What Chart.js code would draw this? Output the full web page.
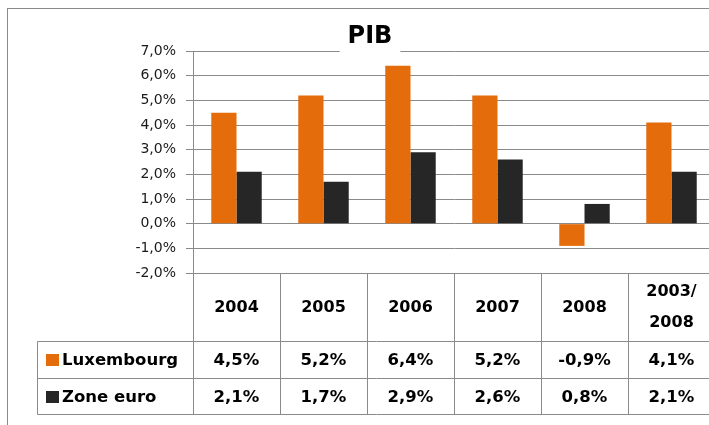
<!DOCTYPE html>
<html>
<head>
<meta charset="utf-8">
<script src="https://cdn.jsdelivr.net/npm/chart.js@4/dist/chart.umd.min.js"></script>
<style>
  html, body { margin: 0; padding: 0; background: #fff; overflow: hidden; }
  canvas { display: block; }
</style>
</head>
<body>
<canvas id="pib" width="740" height="425"></canvas>
<script>
const categories = ['2004', '2005', '2006', '2007', '2008', ['2003/', '2008']];
const luxembourg = [4.5, 5.2, 6.4, 5.2, -0.9, 4.1];
const zoneEuro = [2.1, 1.7, 2.9, 2.6, 0.8, 2.1];
const seriesNames = ['Luxembourg', 'Zone euro'];
const yMin = -2, yMax = 7, yStep = 1;

const orange = '#E46C0A';
const dark = '#262626';
const lineGray = '#8a8a8a';

const pct = v => v.toFixed(1).replace('.', ',') + '%';

// cadre, titre et tableau de données (style Excel)
const tablePlugin = {
  id: 'tableau',
  afterDraw(chart) {
    const ctx = chart.ctx;
    const area = chart.chartArea;
    const x = chart.scales.x;
    const crisp = v => Math.round(v - 0.5) + 0.5;

    ctx.save();
    ctx.strokeStyle = lineGray;
    ctx.lineWidth = 1;

    // cadre du graphique
    ctx.strokeRect(7.5, 8.5, 725, 500);

    // titre avec fond blanc sur la grille
    ctx.font = 'bold 24px "DejaVu Sans"';
    const tw = ctx.measureText('PIB').width;
    const cx = 370;
    ctx.fillStyle = '#fff';
    ctx.fillRect(cx - tw / 2 - 8, 18, tw + 16, 36);
    ctx.fillStyle = '#000';
    ctx.textAlign = 'center';
    ctx.textBaseline = 'alphabetic';
    ctx.fillText('PIB', cx, 43);

    // limites des colonnes
    const n = categories.length;
    const bounds = [area.left];
    for (let i = 1; i < n; i++) {
      bounds.push((x.getPixelForValue(i - 1) + x.getPixelForValue(i)) / 2);
    }
    bounds.push(area.right);

    const top = area.bottom;
    const row1 = 341.5, row2 = 378.5, row3 = 414.5;
    const tableLeft = 37.5;

    ctx.beginPath();
    bounds.forEach(b => {
      ctx.moveTo(crisp(b), top);
      ctx.lineTo(crisp(b), row3);
    });
    ctx.moveTo(tableLeft, row1); ctx.lineTo(crisp(area.right), row1);
    ctx.moveTo(tableLeft, row2); ctx.lineTo(crisp(area.right), row2);
    ctx.moveTo(tableLeft, row3); ctx.lineTo(crisp(area.right), row3);
    ctx.moveTo(tableLeft, row1); ctx.lineTo(tableLeft, row3);
    ctx.stroke();

    // en-têtes
    ctx.fillStyle = '#000';
    ctx.font = 'bold 16px "DejaVu Sans"';
    ctx.textBaseline = 'middle';
    categories.forEach((c, i) => {
      const px = x.getPixelForValue(i);
      if (Array.isArray(c)) {
        ctx.fillText(c[0], px, 292);
        ctx.fillText(c[1], px, 323);
      } else {
        ctx.fillText(c, px, 308);
      }
    });

    // lignes de valeurs
    const rows = [luxembourg, zoneEuro];
    const colors = [orange, dark];
    const centers = [(row1 + row2) / 2, (row2 + row3) / 2];
    ctx.font = 'bold 16.5px "DejaVu Sans"';
    rows.forEach((vals, r) => {
      const cy = centers[r];
      ctx.fillStyle = colors[r];
      ctx.fillRect(46, Math.round(cy) - 6, 13, 12);
      ctx.fillStyle = '#000';
      ctx.textAlign = 'left';
      ctx.fillText(seriesNames[r], 62, cy + 1);
      ctx.textAlign = 'center';
      vals.forEach((v, i) => {
        ctx.fillText(pct(v), x.getPixelForValue(i), cy + 1);
      });
    });
    ctx.restore();
  }
};

const ctx = document.getElementById('pib').getContext('2d');
new Chart(ctx, {
  type: 'bar',
  data: {
    labels: categories,
    datasets: [
      { label: seriesNames[0], data: luxembourg, backgroundColor: orange },
      { label: seriesNames[1], data: zoneEuro, backgroundColor: dark }
    ]
  },
  options: {
    responsive: false,
    animation: false,
    devicePixelRatio: 1,
    layout: { padding: { top: 51, bottom: 152, left: 0, right: 25 } },
    plugins: {
      legend: { display: false },
      title: { display: false },
      tooltip: { enabled: false }
    },
    datasets: {
      bar: { categoryPercentage: 0.58, barPercentage: 1 }
    },
    scales: {
      x: { display: false },
      y: {
        min: yMin,
        max: yMax,
        afterFit(scale) { scale.width = 193; },
        ticks: {
          stepSize: yStep,
          padding: 10,
          color: '#1a1a1a',
          font: { family: 'DejaVu Sans', size: 14 },
          callback: v => pct(v)
        },
        grid: { color: lineGray, tickLength: 7, drawTicks: true },
        border: { display: true, color: lineGray }
      }
    }
  },
  plugins: [tablePlugin]
});
</script>
</body>
</html>
